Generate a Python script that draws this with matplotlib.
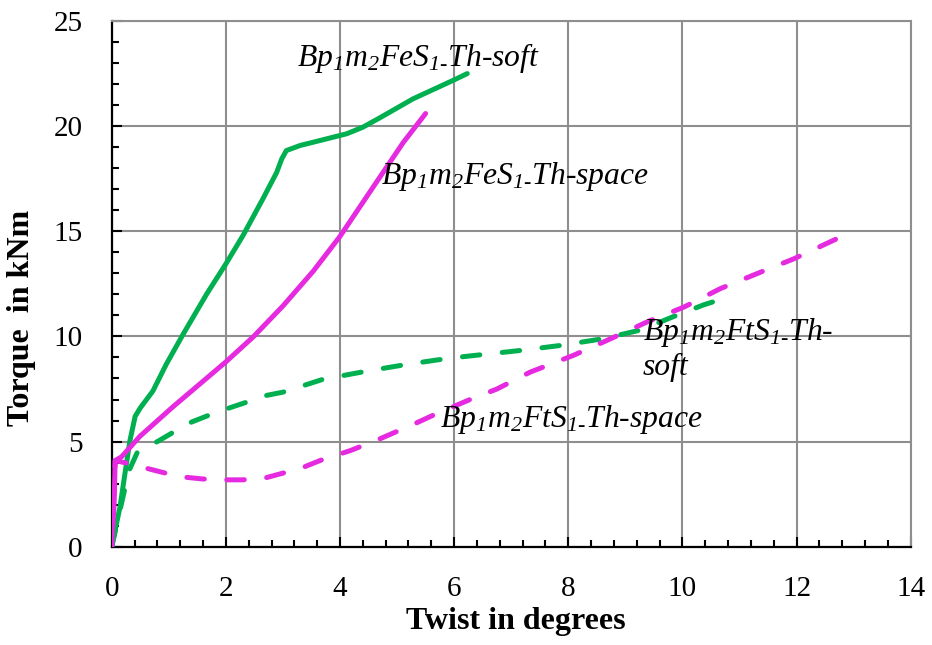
import matplotlib
matplotlib.use("Agg")
import matplotlib.pyplot as plt
from matplotlib.ticker import MultipleLocator

plt.rcParams['mathtext.fontset'] = 'custom'
plt.rcParams['mathtext.rm'] = 'Liberation Serif:italic'
plt.rcParams['mathtext.it'] = 'Liberation Serif:italic'

# Data
fes_soft_x = [0, 0.145, 0.26, 0.32, 0.41, 0.5, 0.72, 0.96, 1.25, 1.66, 2.0, 2.3, 2.65, 2.89, 2.98, 3.06,
              3.3, 3.77, 4.12, 4.4, 4.7, 5.28, 6.0, 6.23]
fes_soft_y = [0, 1.9, 4.0, 5.06, 6.2, 6.6, 7.4, 8.7, 10.1, 12.0, 13.45, 14.8, 16.55, 17.8, 18.45, 18.84,
              19.08, 19.4, 19.64, 19.95, 20.4, 21.3, 22.2, 22.5]

fes_space_x = [0, 0.04, 0.06, 0.17, 0.49, 1.075, 2.0, 2.48, 3.0, 3.53, 4.0, 4.58, 5.11, 5.5]
fes_space_y = [0, 2.0, 4.1, 4.27, 5.24, 6.66, 8.79, 9.98, 11.45, 13.1, 14.76, 17.1, 19.23, 20.6]

fts_soft_x = [0, 0.15, 0.3, 0.45, 0.6, 0.8, 1.07, 1.4, 1.7, 2.04, 2.37, 2.72, 3.0, 3.7, 4.47, 5.17,
              5.75, 6.1, 7.15, 7.86, 8.61, 9.26, 9.85, 10.37, 10.66]
fts_soft_y = [0, 1.8, 3.6, 4.5, 4.75, 5.0, 5.43, 5.93, 6.25, 6.58, 6.88, 7.2, 7.35, 7.96, 8.35, 8.67,
              8.9, 9.02, 9.33, 9.57, 9.89, 10.3, 10.95, 11.5, 11.75]

fts_space_x = [0, 0.03, 0.06, 0.3, 0.58, 0.94, 1.3, 1.6, 2.0, 2.3, 2.69, 3.0, 3.36, 3.68, 4.18, 4.7,
               5.35, 5.67, 6.28, 6.75, 7.33, 8.09, 8.67, 9.39, 10.03, 10.67, 11.31, 11.96, 12.78]
fts_space_y = [0, 2.0, 4.1, 3.95, 3.75, 3.5, 3.3, 3.22, 3.18, 3.18, 3.27, 3.5, 3.78, 4.13, 4.57, 5.13,
               5.9, 6.3, 7.0, 7.5, 8.3, 9.1, 9.8, 10.7, 11.4, 12.28, 12.99, 13.7, 14.74]

x_ticks = [0, 2, 4, 6, 8, 10, 12, 14]
y_ticks = [0, 5, 10, 15, 20, 25]

GREEN = '#00B050'
MAGENTA = '#E52AE0'
GRID = '#8E8E8E'

fig = plt.figure(figsize=(9.32, 6.45), dpi=100)
ax = fig.add_axes([0.1199, 0.1524, 0.9771 - 0.1199, 0.9674 - 0.1524])

lw = 3.6
ax.plot(fes_soft_x, fes_soft_y, color=GREEN, lw=lw, solid_capstyle='round', solid_joinstyle='round', zorder=3)
ax.plot(fes_space_x, fes_space_y, color=MAGENTA, lw=lw, solid_capstyle='round', solid_joinstyle='round', zorder=3)
ax.plot(fts_soft_x, fts_soft_y, color=GREEN, lw=lw, linestyle=(0, (3.5, 4.5)), dash_capstyle='round', zorder=3)
ax.plot(fts_space_x, fts_space_y, color=MAGENTA, lw=lw, linestyle=(0, (3.5, 4.5)), dash_capstyle='round', zorder=3)

ax.set_xlim(0, 14)
ax.set_ylim(0, 25)
ax.set_xticks(x_ticks)
ax.set_yticks(y_ticks)
ax.xaxis.set_minor_locator(MultipleLocator(0.4))
ax.yaxis.set_minor_locator(MultipleLocator(1))
ax.grid(True, which='major', color=GRID, lw=1.5, zorder=1)
ax.set_axisbelow(True)

for s in ['left', 'bottom']:
    ax.spines[s].set_color('black')
    ax.spines[s].set_linewidth(1.6)
for s in ['top', 'right']:
    ax.spines[s].set_color(GRID)
    ax.spines[s].set_linewidth(1.5)

ax.tick_params(which='major', direction='in', length=7, width=1.5, color='black',
               labelsize=21, labelfontfamily='Liberation Serif')
ax.tick_params(axis='x', which='major', pad=21)
ax.tick_params(axis='y', which='major', pad=21)
ax.tick_params(which='minor', direction='in', length=5, width=1.5, color='black')

fig.text(516 / 932, 1 - 622 / 645, 'Twist in degrees', family='Liberation Serif', weight='bold',
         fontsize=23, ha='center', va='center')
fig.text(22 / 932, 1 - 318 / 645, 'Torque  in kNm', family='Liberation Serif', weight='bold',
         fontsize=23, ha='center', va='center', rotation=90)

tfont = dict(family='Liberation Serif', style='italic', fontsize=22.8, ha='left', va='baseline')
ax.text(3.25, 22.86, r'Bp$_1$m$_2$FeS$_{1\text{-}}$Th-soft', **tfont)
ax.text(4.71, 17.25, r'Bp$_1$m$_2$FeS$_{1\text{-}}$Th-space', **tfont)
ax.text(9.31, 9.81, r'Bp$_1$m$_2$FtS$_{1\text{-}}$Th-', **tfont)
ax.text(9.31, 8.15, 'soft', **tfont)
ax.text(5.75, 5.70, r'Bp$_1$m$_2$FtS$_{1\text{-}}$Th-space', **tfont)

fig.savefig('out.png', dpi=100)
